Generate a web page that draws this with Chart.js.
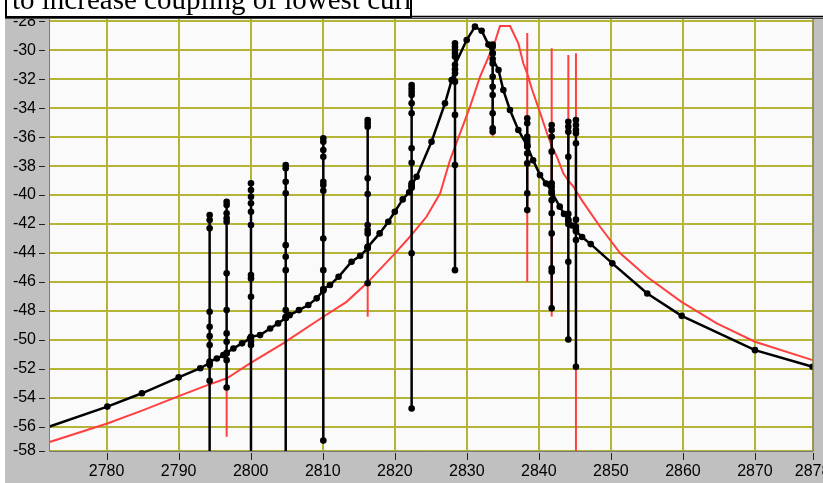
<!DOCTYPE html>
<html><head><meta charset="utf-8">
<script src="https://cdn.jsdelivr.net/npm/chart.js@4.4.0/dist/chart.umd.min.js"></script>
<style>html,body{margin:0;padding:0;background:#fff;overflow:hidden}canvas{display:block}</style>
</head><body>
<canvas id="c" width="823" height="483"></canvas>
<script>
const titleText = "to increase coupling of lowest current";
const xTicks = [2780, 2790, 2800, 2810, 2820, 2830, 2840, 2850, 2860, 2870, 2878];
const yTicks = [-58, -56, -54, -52, -50, -48, -46, -44, -42, -40, -38, -36, -34, -32, -30, -28];
const xMin = 2772.14, xMax = 2878.0, yMin = -57.69, yMax = -27.83;

// black sweep (ordered trace, vertical excursions at the jump frequencies)
const blackX = [
 2770, 2780.1, 2784.9, 2790.0, 2793.0,
 2794.3,2794.3,2794.3,2794.3,2794.3,2794.3,2794.3,2794.3,2794.3,2794.3,2794.3,2794.3,
 2795.3, 2796.2,
 2796.66,2796.66,2796.66,2796.66,2796.66,2796.66,2796.66,2796.66,2796.66,2796.66,2796.66,2796.66,2796.66,
 2797.6, 2798.8, 2799.9,
 2800.04,2800.04,2800.04,2800.04,2800.04,2800.04,2800.04,2800.04,2800.04,2800.04,2800.04,2800.04,2800.04,2800.04,
 2801.3, 2802.7, 2803.8,
 2804.86,2804.86,2804.86,2804.86,2804.86,2804.86,2804.86,2804.86,2804.86,2804.86,2804.86,2804.86,
 2805.4, 2806.7, 2808.0, 2809.16,
 2810.08,2810.08,2810.08,2810.08,2810.08,2810.08,2810.08,2810.08,2810.08,2810.08,2810.08,2810.08,2810.08,
 2811.0, 2812.2, 2814.0, 2815.2,
 2816.24,2816.24,2816.24,2816.24,2816.24,2816.24,2816.24,2816.24,2816.24,2816.24,2816.24,2816.24,
 2817.9, 2819.1, 2820.0, 2821.1, 2822.0,
 2822.34,2822.34,2822.34,2822.34,2822.34,2822.34,2822.34,2822.34,2822.34,2822.34,2822.34,2822.34,2822.34,2822.34,
 2823.03, 2825.1, 2826.97, 2827.9,
 2828.36,2828.36,2828.36,2828.36,2828.36,2828.36,2828.36,2828.36,2828.36,2828.36,2828.36,2828.36,
 2829.98, 2831.13, 2832.06, 2833.0,
 2833.59,2833.59,2833.59,2833.59,2833.59,2833.59,2833.59,2833.59,2833.59,2833.59,2833.59,2833.59,
 2834.4, 2835.07, 2835.99, 2837.15,
 2838.39,2838.39,2838.39,2838.39,2838.39,2838.39,2838.39,2838.39,2838.39,2838.39,2838.39,2838.39,
 2839.2, 2840.16, 2841.0,
 2841.78,2841.78,2841.78,2841.78,2841.78,2841.78,2841.78,2841.78,2841.78,2841.78,2841.78,2841.78,2841.78,2841.78,2841.78,
 2842.9, 2843.5,
 2844.09,2844.09,2844.09,2844.09,2844.09,2844.09,2844.09,2844.09,2844.09,2844.09,
 2844.6,
 2845.15,2845.15,2845.15,2845.15,2845.15,2845.15,2845.15,2845.15,2845.15,2845.15,2845.15,
 2846.0, 2847.2, 2850.2, 2855.05, 2859.82, 2870.0, 2878.0
];
const blackY = [
 -56.36, -54.62, -53.7, -52.6, -51.97,
 -51.6,-60,-52.84,-51.75,-50.37,-49.75,-49.1,-48.07,-42.3,-41.73,-41.38,-51.5,
 -51.3, -51.06,
 -50.95,-53.3,-51.41,-50.14,-49.56,-47.95,-45.41,-41.85,-41.61,-41.26,-40.69,-40.46,-50.9,
 -50.6, -50.25, -49.91,
 -49.85,-60,-50.37,-50.14,-47.03,-45.76,-45.53,-42.07,-41.15,-40.57,-40.12,-39.65,-39.19,-49.8,
 -49.68, -49.22, -48.87,
 -48.5,-60,-48.41,-47.95,-45.19,-44.27,-43.46,-39.88,-39.08,-38.15,-37.92,-48.5,
 -48.3, -47.95, -47.6, -47.14,
 -46.6,-56.97,-46.57,-45.19,-43.0,-39.7,-39.31,-39.08,-37.35,-36.89,-36.31,-36.08,-46.5,
 -46.22, -45.65, -44.61, -44.2,
 -43.68,-46.1,-43.57,-42.65,-42.42,-42.07,-39.93,-38.84,-35.28,-35.04,-34.81,-43.6,
 -42.65, -41.84, -41.15, -40.3, -39.8,
 -39.5,-54.75,-44.03,-39.42,-39.19,-37.77,-36.77,-34.35,-33.66,-33.08,-32.85,-32.62,-32.39,-39.3,
 -38.73, -36.31, -33.66, -32.05,
 -31.3,-45.19,-37.92,-34.46,-32.16,-31.58,-30.43,-30.2,-29.97,-29.74,-29.51,-31.0,
 -29.28, -28.36, -28.64, -29.6,
 -30.2,-35.62,-35.39,-34.35,-33.08,-32.51,-31.82,-30.9,-30.2,-29.74,-29.6,-30.6,
 -31.35, -32.74, -34.12, -35.5,
 -36.6,-41.04,-39.88,-37.81,-37.12,-36.65,-36.42,-36.19,-35.97,-35.04,-34.69,-36.6,
 -37.6, -38.62, -39.2,
 -39.7,-47.83,-45.3,-45.07,-42.65,-41.26,-40.35,-39.88,-39.42,-39.19,-37.0,-35.97,-35.5,-35.16,-39.8,
 -40.8, -41.3,
 -41.7,-49.98,-44.61,-42.0,-41.3,-37.35,-35.62,-35.28,-34.93,-41.8,
 -42.1,
 -42.4,-51.87,-43.11,-42.19,-41.7,-36.42,-35.73,-35.5,-35.16,-34.81,-42.5,
 -42.9, -43.39, -44.72, -46.80, -48.35, -50.72, -51.87
];

// red reference curve (ordered trace, with its spikes)
const redX = [
 2770, 2780.1, 2785.0, 2790.1, 2794.0, 2796.2,
 2796.66, 2796.66, 2796.66,
 2799.9, 2804.5, 2810.08, 2813.3, 2816.1,
 2816.24, 2816.24, 2816.24,
 2819.8, 2822.1, 2824.4, 2826.3, 2827.67,
 2828.36, 2828.36, 2828.36,
 2829.06, 2830.45, 2831.84, 2833.23,
 2833.59, 2833.59, 2833.59,
 2834.6, 2836.0, 2837.15, 2837.84,
 2838.39, 2838.39, 2838.39, 2838.39,
 2839.0, 2840.2, 2841.3,
 2841.78, 2841.78, 2841.78, 2841.78,
 2842.5, 2843.4,
 2844.09, 2844.09, 2844.09,
 2844.8,
 2845.15, 2845.15, 2845.15, 2845.15,
 2845.95, 2848.5, 2851.3, 2855.0, 2859.8, 2864.7, 2870.0, 2878.0, 2880
];
const redY = [
 -57.4, -55.79, -54.88, -53.88, -53.14, -52.75,
 -52.68, -56.71, -52.68,
 -51.64, -50.25, -48.41, -47.38, -46.1,
 -46.03, -48.41, -46.03,
 -44.15, -42.88, -41.5, -39.88, -37.58,
 -36.66, -38.04, -36.66,
 -35.73, -33.89, -31.82, -30.2,
 -29.9, -35.97, -29.9,
 -28.31, -28.31, -29.51, -30.89,
 -31.6, -28.8, -46.0, -31.6,
 -32.62, -34.35, -35.97,
 -36.6, -29.85, -48.4, -36.6,
 -37.35, -38.5,
 -39.0, -30.32, -39.0,
 -39.42,
 -39.7, -30.2, -60, -39.7,
 -40.35, -42.19, -44.03, -45.65, -47.38, -48.87, -50.14, -51.41, -51.7
];

const zip = (xs, ys) => xs.map((x, i) => ({x: x, y: ys[i]}));
const GRID = '#b4b436';
const FONT = {family: '"Liberation Sans", Arial, sans-serif', size: 16};

const framePlugin = {
  id: 'frame',
  beforeDraw(chart) {
    const ctx = chart.ctx, a = chart.chartArea;
    ctx.save();
    ctx.fillStyle = '#ffffff'; ctx.fillRect(0, 0, 823, 483);
    ctx.fillStyle = '#c0c0c0'; ctx.fillRect(5, 17, 818, 466);
    ctx.fillStyle = '#fafafa'; ctx.fillRect(a.left, a.top, a.right - a.left, a.bottom - a.top);
    ctx.restore();
  },
  afterDraw(chart) {
    const ctx = chart.ctx, a = chart.chartArea;
    const xs = chart.scales.x, ys = chart.scales.y;
    ctx.save();
    // plot border
    ctx.strokeStyle = '#7a7a7a'; ctx.lineWidth = 1;
    ctx.beginPath();
    ctx.moveTo(a.left - 0.5, a.top); ctx.lineTo(a.left - 0.5, a.bottom + 0.5);
    ctx.lineTo(a.right + 0.5, a.bottom + 0.5); ctx.lineTo(a.right + 0.5, a.top);
    ctx.stroke();
    // tick marks
    ctx.strokeStyle = '#202020'; ctx.lineWidth = 1;
    ctx.beginPath();
    ys.ticks.forEach(t => {
      const py = Math.round(ys.getPixelForValue(t.value)) + 0.5;
      ctx.moveTo(39, py); ctx.lineTo(45, py);
    });
    xs.ticks.forEach(t => {
      const px = Math.round(xs.getPixelForValue(t.value)) + 0.5;
      ctx.moveTo(px, a.bottom + 2); ctx.lineTo(px, a.bottom + 9);
    });
    ctx.stroke();
    // top edge double line
    ctx.strokeStyle = '#000'; ctx.lineWidth = 1.5;
    ctx.beginPath(); ctx.moveTo(5, 16.5); ctx.lineTo(823, 16.5); ctx.stroke();
    ctx.strokeStyle = '#444'; ctx.lineWidth = 1;
    ctx.beginPath(); ctx.moveTo(5, 18.5); ctx.lineTo(823, 18.5); ctx.stroke();
    // clipped annotation box
    ctx.fillStyle = '#ffffff'; ctx.fillRect(5, 0, 407, 16);
    ctx.save();
    ctx.beginPath(); ctx.rect(6, 0, 405, 16); ctx.clip();
    ctx.fillStyle = '#000';
    ctx.font = '29px "Liberation Serif", "Times New Roman", serif';
    ctx.textBaseline = 'alphabetic'; ctx.textAlign = 'left';
    ctx.fillText(titleText, 12, 9);
    ctx.restore();
    ctx.strokeStyle = '#000'; ctx.lineWidth = 2;
    ctx.beginPath();
    ctx.moveTo(6, 0); ctx.lineTo(6, 17); ctx.lineTo(411, 17); ctx.lineTo(411, 0);
    ctx.stroke();
    ctx.restore();
  }
};

new Chart(document.getElementById('c'), {
  type: 'scatter',
  data: {
    datasets: [
      {data: zip(blackX, blackY), showLine: true, borderColor: '#000', borderWidth: 2.5,
       pointRadius: 3.3, pointBackgroundColor: '#000', pointBorderWidth: 0, tension: 0, clip: 0},
      {data: zip(redX, redY), showLine: true, borderColor: '#ff4040', borderWidth: 2,
       pointRadius: 0, tension: 0, clip: 0}
    ]
  },
  options: {
    responsive: false, animation: false, devicePixelRatio: 1,
    layout: {padding: {left: 0, right: 10.4, top: 19, bottom: 0}},
    plugins: {legend: {display: false}, tooltip: {enabled: false}, title: {display: false}},
    events: [],
    scales: {
      x: {
        type: 'linear', min: xMin, max: xMax,
        afterBuildTicks: s => { s.ticks = xTicks.map(v => ({value: Math.min(v, xMax)})); },
        afterFit: s => { s.height = 32; s.paddingLeft = 0; s.paddingRight = 0; },
        ticks: {autoSkip: false, maxRotation: 0, minRotation: 0, padding: 11, color: '#000', font: FONT,
                callback: (v, i) => String(xTicks[i])},
        grid: {color: GRID, lineWidth: 2, drawTicks: false},
        border: {display: false}
      },
      y: {
        type: 'linear', min: yMin, max: yMax,
        afterBuildTicks: s => { s.ticks = yTicks.map(v => ({value: Math.max(v, yMin)})); },
        afterFit: s => { s.width = 50; s.paddingTop = 0; s.paddingBottom = 0; },
        ticks: {autoSkip: false, padding: 14, color: '#000', font: FONT,
                callback: (v, i) => String(yTicks[i])},
        grid: {color: GRID, lineWidth: 2, drawTicks: false},
        border: {display: false}
      }
    }
  },
  plugins: [framePlugin]
});
</script>
</body></html>
